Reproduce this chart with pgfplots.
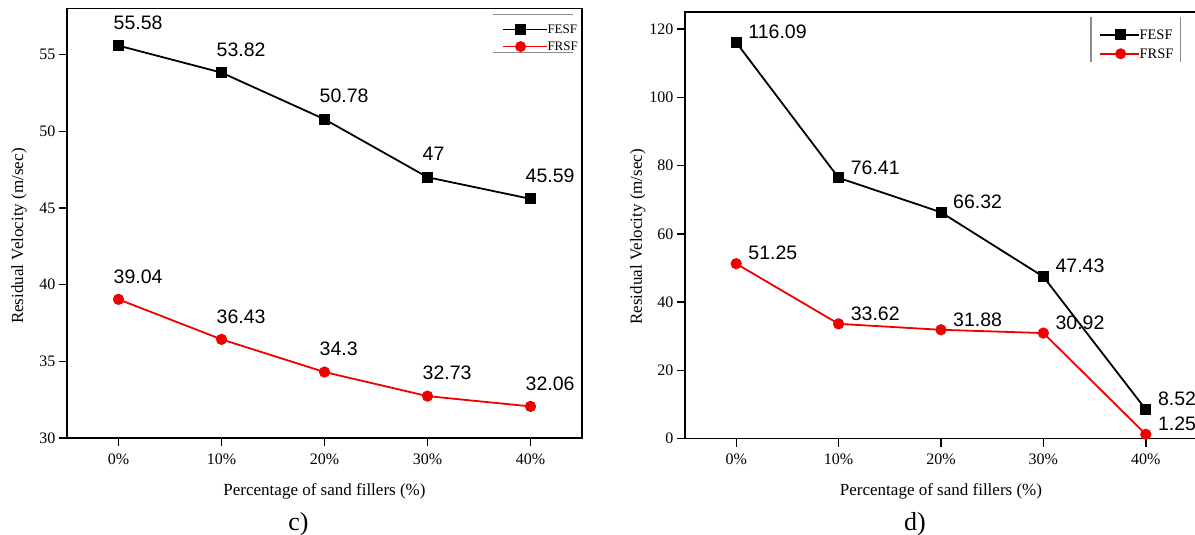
\documentclass[border=0pt]{standalone}
\usepackage{fontspec}
\setmainfont{Liberation Serif}
\newfontfamily\arialf{Liberation Sans}
\usepackage{pgfplots}
\pgfplotsset{compat=1.18}
\definecolor{myred}{RGB}{240,0,0}
\definecolor{legline}{RGB}{140,140,140}

\pgfplotsset{
  mystyle/.style={
    scale only axis,
    axis line style={line width=1.8pt},
    xmin=-0.5, xmax=4.5,
    xtick={0,1,2,3,4},
    xticklabels={0\%,10\%,20\%,30\%,40\%},
    tick align=outside,
    xtick pos=left, ytick pos=left,
    major tick length=8pt,
    tick style={line width=1.4pt, black},
    /pgf/number format/assume math mode=true,
    tick label style={font=\fontsize{16}{19}\selectfont},
    xticklabel style={yshift=-4pt},
    label style={font=\fontsize{17}{20}\selectfont},
    xlabel={Percentage of sand fillers (\%)},
    ylabel={Residual Velocity (m/sec)},
    xlabel style={at={(axis description cs:0.5,0)}, anchor=center, yshift=-53pt},
    legend cell align=left,
    clip=false,
  },
  fesf/.style={black, line width=1.8pt, mark=square*, mark size=4.6pt, mark options={solid},
    nodes near coords, point meta=explicit symbolic},
  frsf/.style={myred, line width=1.8pt, mark=*, mark size=4.7pt, mark options={solid},
    nodes near coords, point meta=explicit symbolic},
}

\begin{document}
\begin{tikzpicture}
\useasboundingbox (0,0) rectangle (1195pt,535pt);
% ---------- panel c ----------
\begin{axis}[mystyle,
  at={(67pt,97pt)}, anchor=south west,
  width=515pt, height=429.5pt,
  ymin=30, ymax=58, ytick={30,35,40,45,50,55},
  ylabel style={at={(axis description cs:-0.093,0.47)}, anchor=center},
  nodes near coords style={font=\arialf\fontsize{19.5}{22}\selectfont, anchor=west, xshift=-9pt, yshift=23pt, text=black},
  legend style={at={(rel axis cs:0.844,0.963)}, anchor=north west, draw=none, fill=none,
    inner sep=0pt, row sep=7pt, font=\fontsize{13}{15}\selectfont,
    nodes={inner sep=0pt, text height=9pt, text depth=1pt}},
  legend image code/.code={\draw[mark repeat=2,mark phase=2,line width=1.5pt]
    plot coordinates {(0pt,0pt) (18pt,0pt) (31pt,0pt)};\path (31pt,0pt) -- (44pt,0pt);},
]
\addplot[fesf] coordinates {(0,55.58)[55.58] (1,53.82)[53.82] (2,50.78)[50.78] (3,47)[47] (4,45.59)[45.59]};
\addlegendentry{FESF}
\addplot[frsf] coordinates {(0,39.04)[39.04] (1,36.43)[36.43] (2,34.3)[34.3] (3,32.73)[32.73] (4,32.06)[32.06]};
\addlegendentry{FRSF}
\draw[legline, line width=1.2pt] (rel axis cs:0.827,0.986) -- (rel axis cs:0.983,0.986);
\draw[legline, line width=1.2pt] (rel axis cs:0.827,0.897) -- (rel axis cs:0.983,0.897);
\end{axis}
% ---------- panel d ----------
\begin{axis}[mystyle,
  at={(685pt,96.4pt)}, anchor=south west,
  width=512pt, height=426.6pt,
  ymin=0, ymax=125, ytick={0,20,40,60,80,100,120},
  ylabel style={at={(axis description cs:-0.092,0.473)}, anchor=center},
  nodes near coords style={font=\arialf\fontsize{19.5}{22}\selectfont, anchor=west, xshift=8pt, yshift=10.5pt, text=black},
  legend style={at={(rel axis cs:0.808,0.960)}, anchor=north west, draw=none, fill=none,
    inner sep=0pt, row sep=8pt, font=\fontsize{14.5}{17}\selectfont,
    nodes={inner sep=0pt, text height=10pt, text depth=1pt}},
  legend image code/.code={\draw[mark repeat=2,mark phase=2,line width=1.5pt]
    plot coordinates {(0pt,0pt) (21pt,0pt) (35pt,0pt)};\path (35pt,0pt) -- (39pt,0pt);},
]
\addplot[fesf] coordinates {(0,116.09)[116.09] (1,76.41)[76.41] (2,66.32)[66.32] (3,47.43)[47.43] (4,8.52)[8.52]};
\addlegendentry{FESF}
\addplot[frsf] coordinates {(0,51.25)[51.25] (1,33.62)[33.62] (2,31.88)[31.88] (3,30.92)[30.92] (4,1.25)[1.25]};
\addlegendentry{FRSF}
\draw[legline, line width=1.2pt] (rel axis cs:0.793,0.988) -- (rel axis cs:0.793,0.883);
\draw[legline, line width=1.2pt] (rel axis cs:0.967,0.988) -- (rel axis cs:0.967,0.883);
\end{axis}
\node[font=\fontsize{26}{30}\selectfont, anchor=base] at (298.5pt,4pt) {c)};
\node[font=\fontsize{26}{30}\selectfont, anchor=base] at (915pt,4pt) {d)};
\end{tikzpicture}
\end{document}
